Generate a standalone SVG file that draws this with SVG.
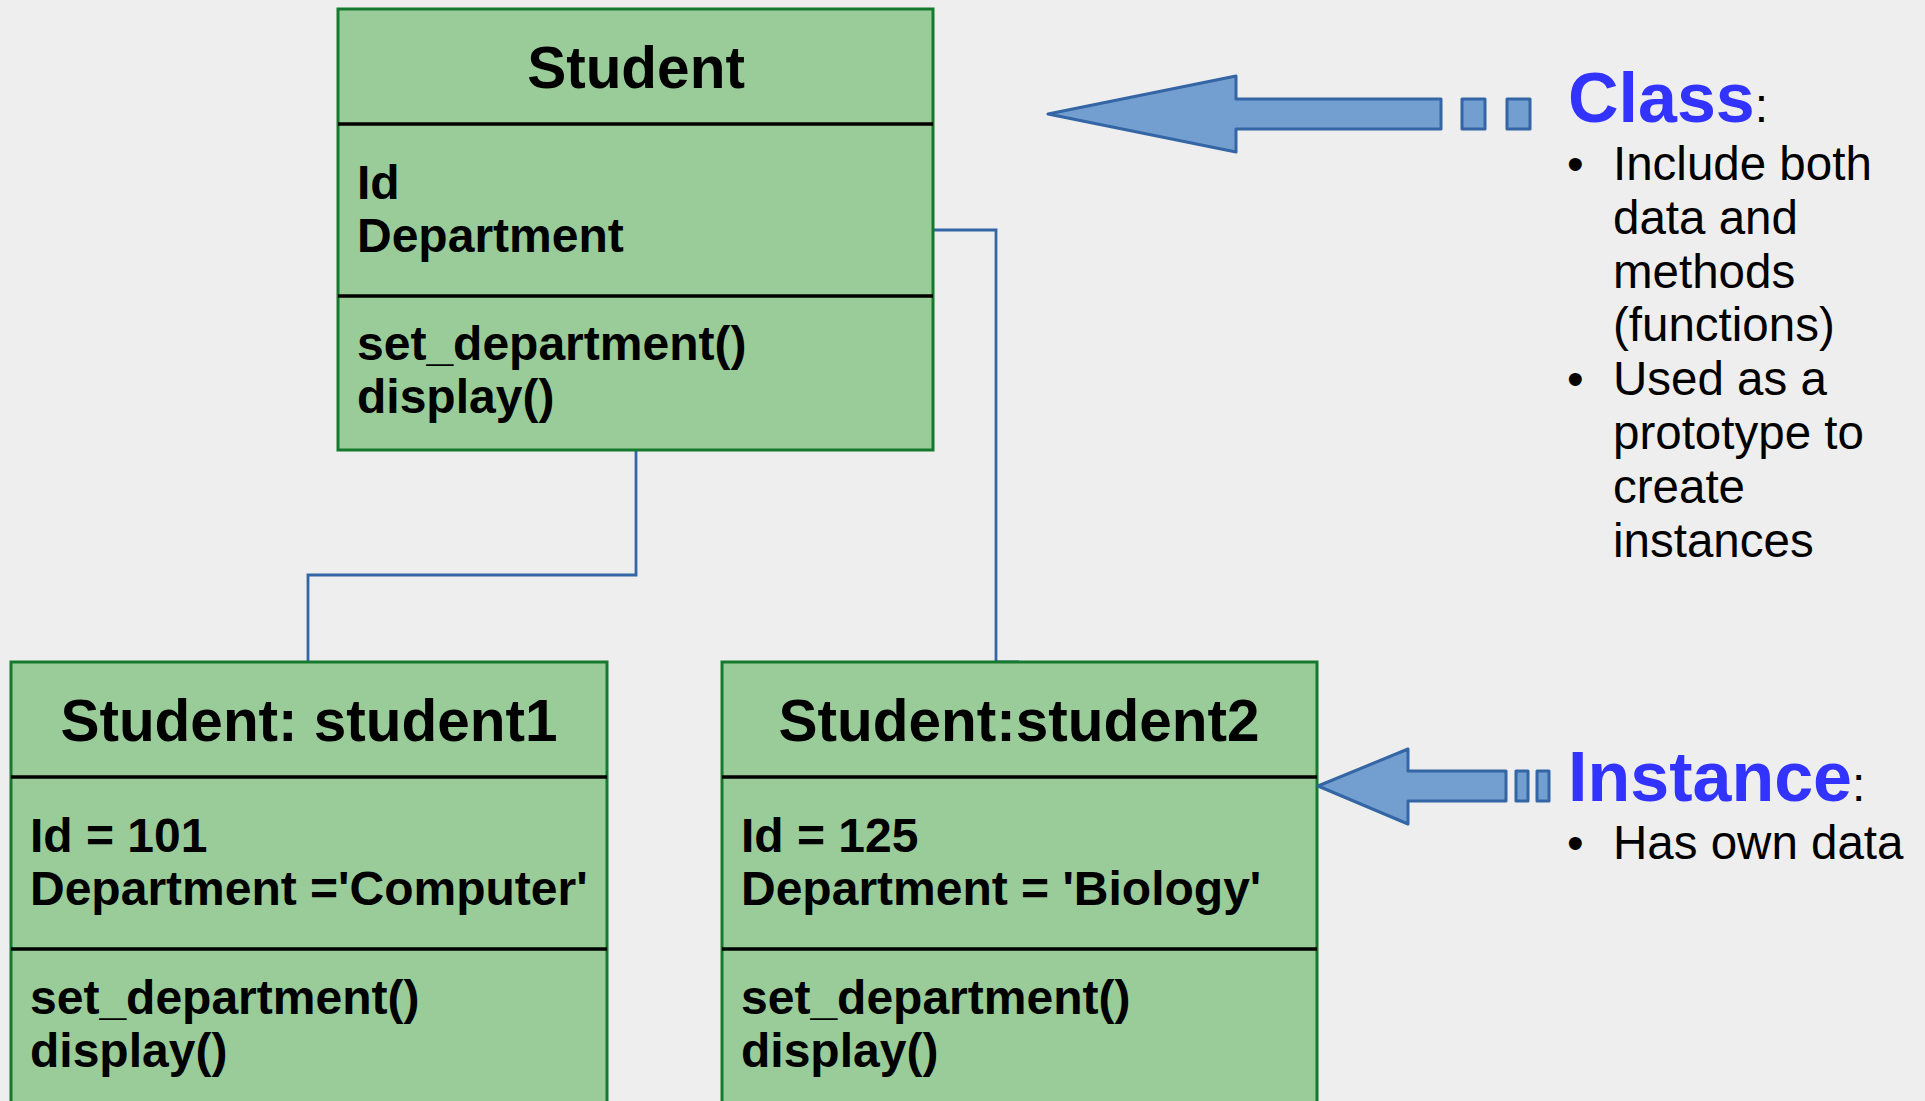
<svg xmlns="http://www.w3.org/2000/svg" width="1925" height="1101" viewBox="0 0 1925 1101">
<style>
.box{fill:#99cc99;stroke:#157a2e;stroke-width:3}
.div{stroke:#000;stroke-width:3.5}
.hdr{font-family:"Liberation Sans",Arial,sans-serif;font-weight:bold;font-size:58.5px;fill:#000;text-anchor:middle}
.txt{font-family:"Liberation Sans",Arial,sans-serif;font-weight:bold;font-size:48px;fill:#000}
.con{fill:none;stroke:#3465a4;stroke-width:2.8}
.arr{fill:#729fcf;stroke:#3465a4;stroke-width:3;stroke-linejoin:round}
.ttl{font-family:"Liberation Sans",Arial,sans-serif;font-weight:bold;font-size:70px;fill:#3333ff}
.col{font-weight:normal;font-size:48px;fill:#000}
.bul{font-family:"Liberation Sans",Arial,sans-serif;font-size:47.5px;fill:#000}
</style>
<rect width="1925" height="1101" fill="#eeeeee"/>
<g id="connectors">
<polyline class="con" points="636,450 636,575 308,575 308,662"/>
<polyline class="con" points="933,230 996,230 996,662 1019,662"/>
</g>
<g id="student">
<rect class="box" x="338" y="9" width="595" height="441"/>
<line class="div" x1="338" y1="124" x2="933" y2="124"/>
<line class="div" x1="338" y1="296" x2="933" y2="296"/>
<text class="hdr" x="636" y="88">Student</text>
<text class="txt" x="357" y="199">Id</text>
<text class="txt" x="357" y="252">Department</text>
<text class="txt" x="357" y="360">set_department()</text>
<text class="txt" x="357" y="413">display()</text>
</g>
<g id="student1">
<rect class="box" x="11" y="662" width="596" height="480"/>
<line class="div" x1="11" y1="777" x2="607" y2="777"/>
<line class="div" x1="11" y1="949" x2="607" y2="949"/>
<text class="hdr" x="309" y="741">Student: student1</text>
<text class="txt" x="30" y="852">Id = 101</text>
<text class="txt" x="30" y="905">Department ='Computer'</text>
<text class="txt" x="30" y="1014">set_department()</text>
<text class="txt" x="30" y="1067">display()</text>
</g>
<g id="student2">
<rect class="box" x="722" y="662" width="595" height="480"/>
<line class="div" x1="722" y1="777" x2="1317" y2="777"/>
<line class="div" x1="722" y1="949" x2="1317" y2="949"/>
<text class="hdr" x="1019" y="741">Student:student2</text>
<text class="txt" x="741" y="852">Id = 125</text>
<text class="txt" x="741" y="905">Department = 'Biology'</text>
<text class="txt" x="741" y="1014">set_department()</text>
<text class="txt" x="741" y="1067">display()</text>
</g>
<g id="class-arrow">
<polygon class="arr" points="1048,114 1236,76 1236,99 1441,99 1441,129 1236,129 1236,152"/>
<rect class="arr" x="1462" y="99" width="23" height="30"/>
<rect class="arr" x="1507" y="99" width="23" height="30"/>
</g>
<g id="instance-arrow">
<polygon class="arr" points="1318,786 1408,749 1408,771 1506,771 1506,801 1408,801 1408,824"/>
<rect class="arr" x="1516" y="771" width="12" height="30"/>
<rect class="arr" x="1537" y="771" width="12" height="30"/>
</g>
<g id="class-note">
<text class="ttl" x="1568" y="122">Class<tspan class="col">:</tspan></text>
<text class="bul" x="1567" y="180">•</text>
<text class="bul" x="1613" y="180">Include both</text>
<text class="bul" x="1613" y="234">data and</text>
<text class="bul" x="1613" y="288">methods</text>
<text class="bul" x="1613" y="341">(functions)</text>
<text class="bul" x="1567" y="395">•</text>
<text class="bul" x="1613" y="395">Used as a</text>
<text class="bul" x="1613" y="449">prototype to</text>
<text class="bul" x="1613" y="503">create</text>
<text class="bul" x="1613" y="557">instances</text>
</g>
<g id="instance-note">
<text class="ttl" x="1568" y="801">Instance<tspan class="col">:</tspan></text>
<text class="bul" x="1567" y="859">•</text>
<text class="bul" x="1613" y="859">Has own data</text>
</g>
</svg>
